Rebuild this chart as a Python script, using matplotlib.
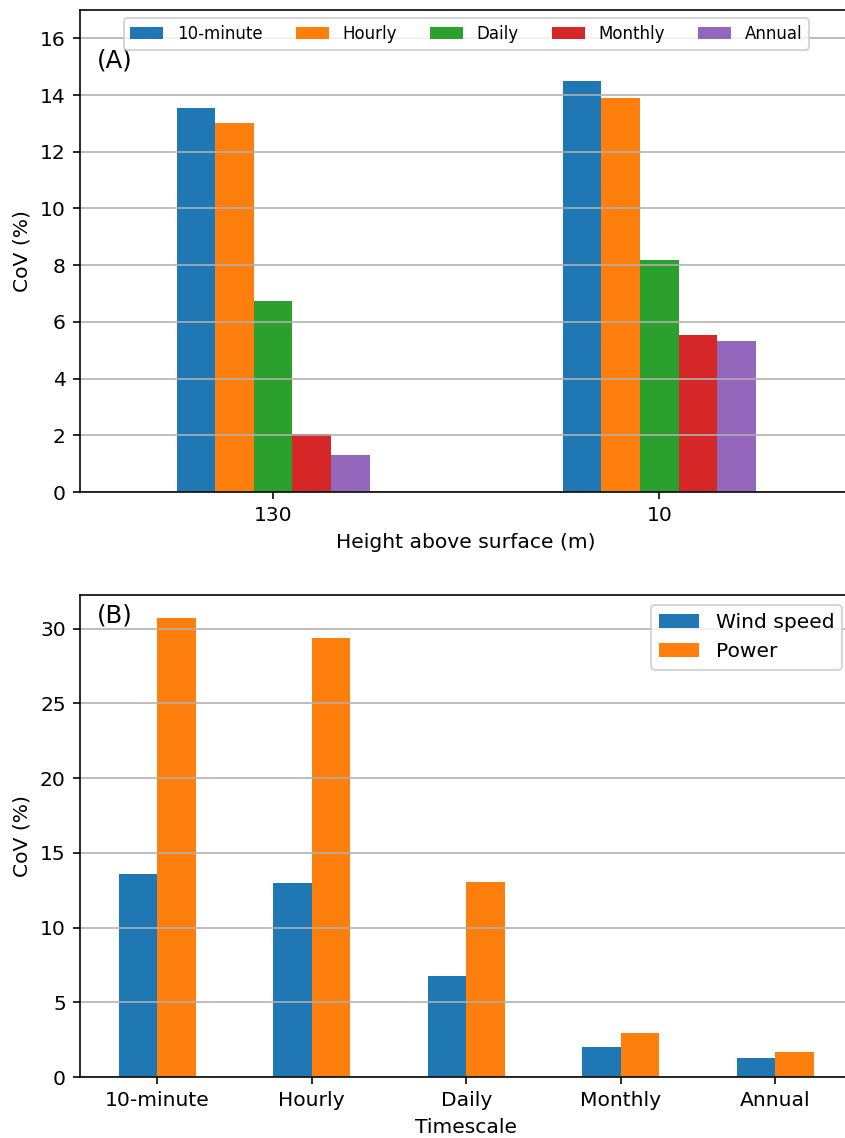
import pandas as pd
import matplotlib
matplotlib.use("Agg")
import matplotlib.pyplot as plt

timescales = ['10-minute', 'Hourly', 'Daily', 'Monthly', 'Annual']
heights = ['130', '10']
cov_130 = [13.56, 13.00, 6.73, 2.04, 1.30]
cov_10 = [14.51, 13.88, 8.18, 5.52, 5.32]
wind_cov = [13.56, 13.00, 6.73, 2.04, 1.30]
power_cov = [30.72, 29.38, 13.06, 2.95, 1.67]

dpi = 146
fig = plt.figure(figsize=(845 / dpi, 1138 / dpi), dpi=dpi)

# axes run past the right edge, as in the cropped original
ax1 = fig.add_axes([0.09467, 0.56766, 0.91420, 0.42355])
ax2 = fig.add_axes([0.09467, 0.05360, 0.91420, 0.42355])

# (A) CoV by height
df_height = pd.DataFrame([cov_130, cov_10], index=heights, columns=timescales)
df_height.plot.bar(ax=ax1, rot=0, legend=False)
ax1.set_xlim(-0.5, 1.5)
ax1.set_ylim(0, 17)
ax1.grid(axis='y')
ax1.set_xlabel('Height above surface (m)')
ax1.set_ylabel('CoV (%)')
ax1.legend(ncol=5, loc='upper center', fontsize=8.2)
ax1.text(0.022, 0.9205, '(A)', transform=ax1.transAxes, fontsize=12,
         ha='left', va='top')
ax1.spines['right'].set_visible(False)

# (B) CoV by timescale, wind speed vs power
df_time = pd.DataFrame({'Wind speed': wind_cov, 'Power': power_cov}, index=timescales)
df_time.plot.bar(ax=ax2, rot=0, legend=False)
ax2.set_xlim(-0.5, 4.5)
ax2.grid(axis='y')
ax2.set_xlabel('Timescale')
ax2.set_ylabel('CoV (%)')
ax2.legend(loc='upper right')
ax2.text(0.022, 0.983, '(B)', transform=ax2.transAxes, fontsize=12,
         ha='left', va='top')
ax2.spines['right'].set_visible(False)

fig.savefig('out.png', dpi=dpi)
